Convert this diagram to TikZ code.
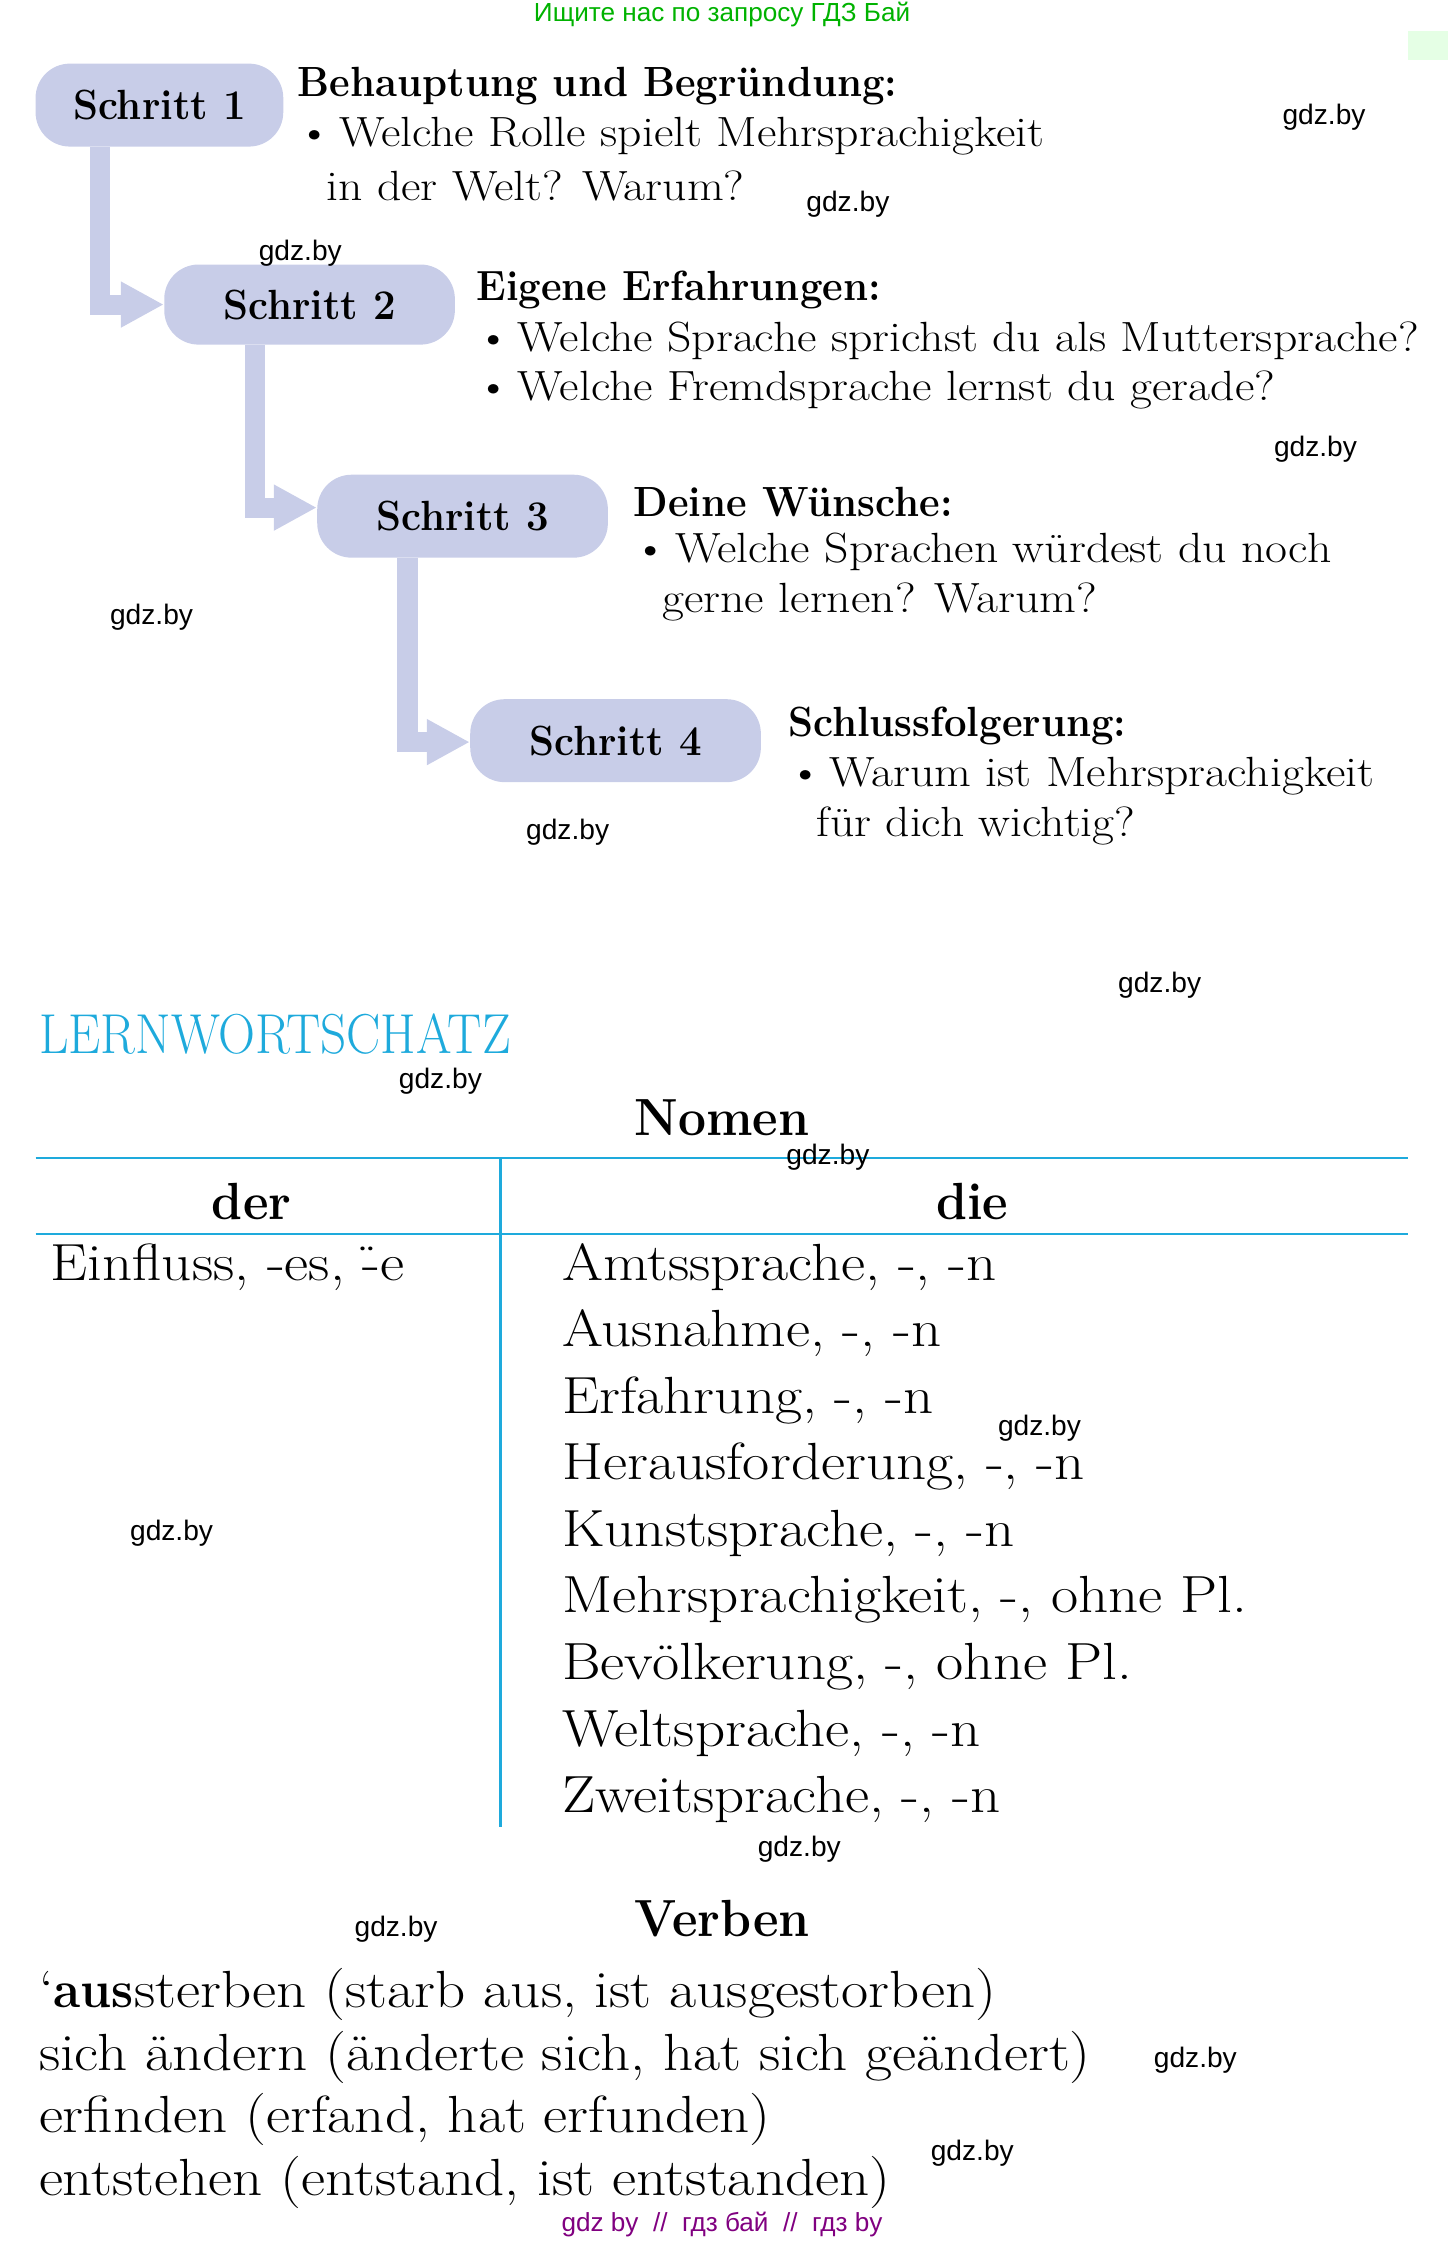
\documentclass[tikz,border=0pt]{standalone}
\usepackage{fontspec}
\setmainfont{Latin Modern Roman}[FakeStretch=1.13,BoldFeatures={FakeStretch=0.95}]
\newfontfamily\lwfont{Latin Modern Roman}[FakeStretch=0.91]
\newfontfamily\wm{Liberation Sans}
\usetikzlibrary{arrows.meta}
\definecolor{lav}{RGB}{200,205,232}
\definecolor{cy}{RGB}{30,170,220}
\begin{document}
\begin{tikzpicture}[x=0.025cm,y=-0.025cm,
 box/.style={fill=lav,rounded corners=0.6cm,inner sep=0,font=\fontsize{21}{25}\selectfont\bfseries},
 conn/.style={draw=lav,line width=0.35cm,-{Triangle[length=0.75cm,width=0.75cm]}},
 tx/.style={anchor=west,inner sep=0,font=\fontsize{21}{25}\selectfont},
 vt/.style={anchor=west,inner sep=0,font=\fontsize{26}{30}\selectfont},
 w/.style={font=\wm\fontsize{14}{16}\selectfont,inner sep=0}]
\useasboundingbox (0,0) rectangle (1013,1568);
\fill[green!10] (985,22) rectangle (1013,42);
\node[font=\wm\fontsize{13}{15}\selectfont,text=green!70!black] (top) at (505,10) {Ищите нас по запросу ГДЗ Бай};
\node[font=\wm\fontsize{13}{15}\selectfont,text=violet] (bot) at (505,1556) {gdz by \ // \ гдз бай \ // \ гдз by};
% boxes
\node[box,minimum width=4.33cm,minimum height=1.45cm] (s1) at (111.5,73.5) {Schritt 1};
\node[box,minimum width=5.08cm,minimum height=1.4cm] (s2) at (216.5,213) {Schritt 2};
\node[box,minimum width=5.08cm,minimum height=1.45cm] (s3) at (323.5,361) {Schritt 3};
\node[box,minimum width=5.08cm,minimum height=1.45cm] (s4) at (430.5,518) {Schritt 4};
\coordinate (c1) at (70,213); \coordinate (c2) at (178,355); \coordinate (c3) at (285,519);
\draw[conn] (s1.south -| c1) -- (c1) -- (s2.west|-c1);
\draw[conn] (s2.south -| c2) -- (c2) -- (s3.west|-c2);
\draw[conn] (s3.south -| c3) -- (c3) -- (s4.west|-c3);
% texts
\node[tx,font=\fontsize{21}{25}\selectfont\bfseries] (h1) at (208,60) {Behauptung und Begründung:};
\node[tx] (t11) at (208,95) {\textbullet\,Welche Rolle spielt Mehrsprachigkeit};
\node[tx] (t12) at (228,130) {in der Welt? Warum?};
\node[tx,font=\fontsize{21}{25}\selectfont\bfseries] (h2) at (333,203) {Eigene Erfahrungen:};
\node[tx] (t21) at (333,238) {\textbullet\,Welche Sprache sprichst du als Muttersprache?};
\node[tx] (t22) at (333,273) {\textbullet\,Welche Fremdsprache lernst du gerade?};
\node[tx,font=\fontsize{21}{25}\selectfont\bfseries] (h3) at (443,351) {Deine Wünsche:};
\node[tx] (t31) at (443,386) {\textbullet\,Welche Sprachen würdest du noch};
\node[tx] (t32) at (463,421) {gerne lernen? Warum?};
\node[tx,font=\fontsize{21}{25}\selectfont\bfseries] (h4) at (551,508) {Schlussfolgerung:};
\node[tx] (t41) at (551,543) {\textbullet\,Warum ist Mehrsprachigkeit};
\node[tx] (t42) at (571,578) {für dich wichtig?};
% Lernwortschatz
\node[vt,text=cy,font=\lwfont\fontsize{28}{32}\selectfont] (lw) at (27,723) {LERNWORTSCHATZ};
\node[inner sep=0,font=\fontsize{26}{30}\selectfont\bfseries] (nom) at (505,782) {Nomen};
\coordinate (l1a) at (25,810); \coordinate (l1b) at (985,810);
\coordinate (l2a) at (25,863); \coordinate (l2b) at (985,863);
\coordinate (va) at (350,810); \coordinate (vb) at (350,1278);
\draw[cy,line width=1.2pt] (l1a) -- (l1b) (l2a) -- (l2b) (va) -- (vb);
\node[inner sep=0,font=\fontsize{26}{30}\selectfont\bfseries] (der) at (176,840) {der};
\node[inner sep=0,font=\fontsize{26}{30}\selectfont\bfseries] (die) at (680,840) {die};
\node[vt] (e0) at (35,886) {Einfluss, -es, \"{-}e};
\foreach \t [count=\i from 0] in {Amtssprache{,} -{,} -n,Ausnahme{,} -{,} -n,Erfahrung{,} -{,} -n,Herausforderung{,} -{,} -n,Kunstsprache{,} -{,} -n,Mehrsprachigkeit{,} -{,} ohne Pl.,Bevölkerung{,} -{,} ohne Pl.,Weltsprache{,} -{,} -n,Zweitsprache{,} -{,} -n}
  \node[vt] (d\i) at (393,886+46.6*\i) {\t};
\node[inner sep=0,font=\fontsize{26}{30}\selectfont\bfseries] (verb) at (505,1342) {Verben};
\node[vt] (v1) at (27,1395) {`\textbf{aus}sterben (starb aus, ist ausgestorben)};
\node[vt] (v2) at (27,1439) {sich ändern (änderte sich, hat sich geändert)};
\node[vt] (v3) at (27,1482) {erfinden (erfand, hat erfunden)};
\node[vt] (v4) at (27,1526) {entstehen (entstand, ist entstanden)};
% watermarks
\foreach \x/\y [count=\k] in {926/82,593/143,210/177,920/314,106/432,397/582,811/689,308/756,579/809,727/999,120/1072,559/1293,277/1349,836/1441,680/1506}
  \node[w] (g\k) at (\x,\y) {gdz.by};
\end{tikzpicture}
\end{document}
